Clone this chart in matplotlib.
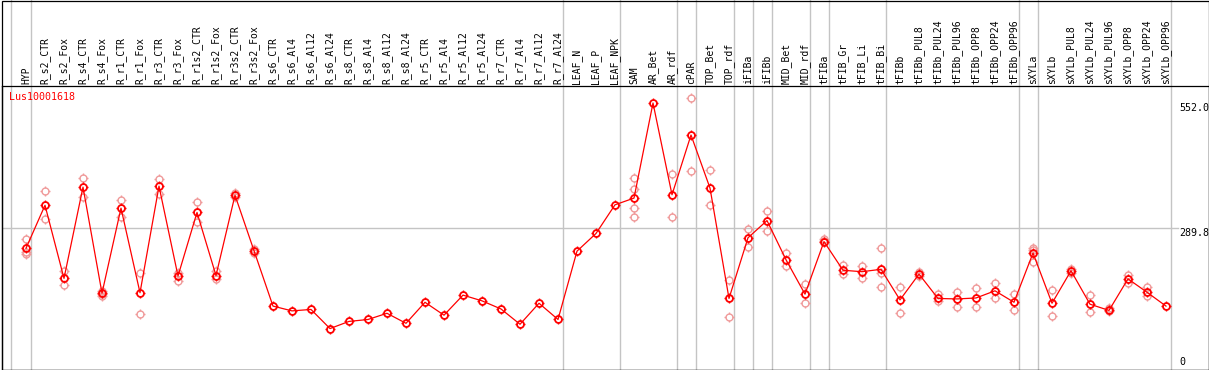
import matplotlib
matplotlib.use("Agg")
import matplotlib.pyplot as plt
import matplotlib.transforms as mtransforms
from matplotlib.path import Path
from matplotlib.patches import Rectangle

# ---------------- data ----------------
gene = "Lus10001618"
samples = ["HYP", "R_s2_CTR", "R_s2_Fox", "R_s4_CTR", "R_s4_Fox", "R_r1_CTR", "R_r1_Fox",
           "R_r3_CTR", "R_r3_Fox", "R_r1s2_CTR", "R_r1s2_Fox", "R_r3s2_CTR", "R_r3s2_Fox",
           "R_s6_CTR", "R_s6_Al4", "R_s6_Al12", "R_s6_Al24", "R_s8_CTR", "R_s8_Al4",
           "R_s8_Al12", "R_s8_Al24", "R_r5_CTR", "R_r5_Al4", "R_r5_Al12", "R_r5_Al24",
           "R_r7_CTR", "R_r7_Al4", "R_r7_Al12", "R_r7_Al24", "LEAF_N", "LEAF_P", "LEAF_NPK",
           "SAM", "AR_Bet", "AR_rdf", "cPAR", "TOP_Bet", "TOP_rdf", "iFIBa", "iFIBb",
           "MID_Bet", "MID_rdf", "tFIBa", "tFIB_Gr", "tFIB_Li", "tFIB_Bi", "tFIBb",
           "tFIBb_PUL8", "tFIBb_PUL24", "tFIBb_PUL96", "tFIBb_OPP8", "tFIBb_OPP24",
           "tFIBb_OPP96", "sXYLa", "sXYLb", "sXYLb_PUL8", "sXYLb_PUL24", "sXYLb_PUL96",
           "sXYLb_OPP8", "sXYLb_OPP24", "sXYLb_OPP96"]

means = [248, 338, 185, 376, 154, 332, 155, 378, 190, 323, 191, 359, 243,
         127, 117, 120, 80, 95, 99, 112, 91, 135, 108, 150, 138, 121, 89, 133, 99,
         242, 279, 339, 353, 552, 360, 485, 374, 143, 270, 306, 224, 152,
         262, 202, 199, 204, 140, 194, 143, 142, 144, 159, 135,
         238, 133, 201, 131, 118, 184, 156, 127]

replicates = [[267, 240, 236], [368, 309], [201, 171], [396, 355], [158, 152, 148],
              [349, 314], [196, 110], [394, 362], [197, 180], [344, 302], [201, 184],
              [364, 356], [246, 239],
              [], [], [], [], [], [], [], [], [], [], [], [], [], [], [], [],
              [], [], [],
              [396, 372, 332, 313], [], [403, 313], [562, 409], [411, 339], [182, 104],
              [288, 250], [325, 285], [238, 210], [173, 133],
              [268, 264], [213, 194], [211, 186], [248, 196, 168], [166, 112],
              [199, 190], [152, 138], [157, 126], [165, 125], [175, 143], [152, 118],
              [249, 244, 220], [161, 106], [205, 197], [150, 114], [122, 116],
              [192, 175], [166, 148], []]

# group separators (after these column indices)
group_ends = [0, 28, 31, 34, 35, 37, 38, 39, 41, 42, 45, 52, 53, 60]
first_separator = -0.8
ref_value = 289.8
max_value = 552.0

# ---------------- styling ----------------
W, H, DPI = 1209, 370, 100
RED = "#ff0000"
PINK = "#f09a9a"
GREY = "#c4c4c4"
FONT = "DejaVu Sans Mono"

fig = plt.figure(figsize=(W / DPI, H / DPI), dpi=DPI)
fig.patch.set_facecolor("white")

# plot area in pixels
px_left, px_right, px_top, px_bottom = 1.5, 1208.5, 85.5, 369.5
ax = fig.add_axes([px_left / W, (H - px_bottom) / H,
                   (px_right - px_left) / W, (px_bottom - px_top) / H])

x0_px, step_px = 26.0, 19.0
ax.set_xlim((px_left - x0_px) / step_px, (px_right - x0_px) / step_px)
scale = 0.4779
y0_px = 366.8
ax.set_ylim((y0_px - px_bottom) / scale, (y0_px - px_top) / scale)

ax.set_xticks([])
ax.set_yticks([])
for s in ax.spines.values():
    s.set_color("black")
    s.set_linewidth(0.9)

# header extension factor
ext = px_bottom / (px_bottom - px_top)

# separators
for pos in [first_separator] + [g + 0.25 for g in group_ends]:
    ax.axvline(pos, ymin=0, ymax=ext, color=GREY, lw=1.0, clip_on=False, zorder=1)

# reference line
xlo, xhi = ax.get_xlim()
ax.axhline(ref_value, xmin=0, xmax=((1178 - x0_px) / step_px - xlo) / (xhi - xlo),
           color=GREY, lw=1.0, zorder=1)

# header frame
fig.add_artist(Rectangle((px_left / W, (H - px_bottom) / H),
                         (px_right - px_left) / W, (px_bottom - 0.5) / H,
                         transform=fig.transFigure, fill=False,
                         edgecolor="black", lw=0.9, zorder=5))

# tick marker (4 short compass ticks)
r1, r2 = 0.68, 1.0
tick_path = Path([(0, r1), (0, r2), (0, -r1), (0, -r2), (r1, 0), (r2, 0), (-r1, 0), (-r2, 0)],
                 [Path.MOVETO, Path.LINETO] * 4)

xs = list(range(len(samples)))

# replicates
for i, reps in enumerate(replicates):
    if reps:
        rx = [i] * len(reps)
        ax.plot(rx, reps, linestyle="none", marker="o", markersize=5.0,
                markerfacecolor="none", markeredgecolor=PINK, markeredgewidth=1.0, zorder=3)
        ax.plot(rx, reps, linestyle="none", marker=tick_path, markersize=7.0,
                markeredgecolor=PINK, markeredgewidth=1.0, zorder=3)

# mean line and markers
ax.plot(xs, means, color=RED, lw=0.9, zorder=4)
ax.plot(xs, means, linestyle="none", marker="o", markersize=5.0,
        markerfacecolor="none", markeredgecolor=RED, markeredgewidth=1.3, zorder=5)
ax.plot(xs, means, linestyle="none", marker=tick_path, markersize=7.0,
        markeredgecolor=RED, markeredgewidth=1.0, zorder=5)

# sample labels in header
hdr = mtransforms.blended_transform_factory(ax.transData, ax.transAxes)
for i, name in enumerate(samples):
    ax.text(i, 1.0 + 1.5 / (px_bottom - px_top), name, rotation=90, ha="center", va="bottom",
            transform=hdr, fontsize=7.0, family=FONT, color="black", clip_on=False)

# gene label
ax.text((9.3 - px_left) / (px_right - px_left), (px_bottom - 92.5) / (px_bottom - px_top),
        gene, transform=ax.transAxes, ha="left", va="top",
        fontsize=7.2, family=FONT, color=RED)

# value labels on right
lab_x = (1179 - x0_px) / step_px
ax.text(lab_x, max_value, f"{max_value:.1f}", ha="left", va="top", fontsize=7.2,
        family=FONT, color="black", zorder=6)
ax.text(lab_x, ref_value, f"{ref_value:.1f}", ha="left", va="top", fontsize=7.2,
        family=FONT, color="black", zorder=6)
ax.text(lab_x, 0, "0", ha="left", va="bottom", fontsize=7.2,
        family=FONT, color="black", zorder=6)

fig.savefig("out.png", dpi=DPI, facecolor="white")
